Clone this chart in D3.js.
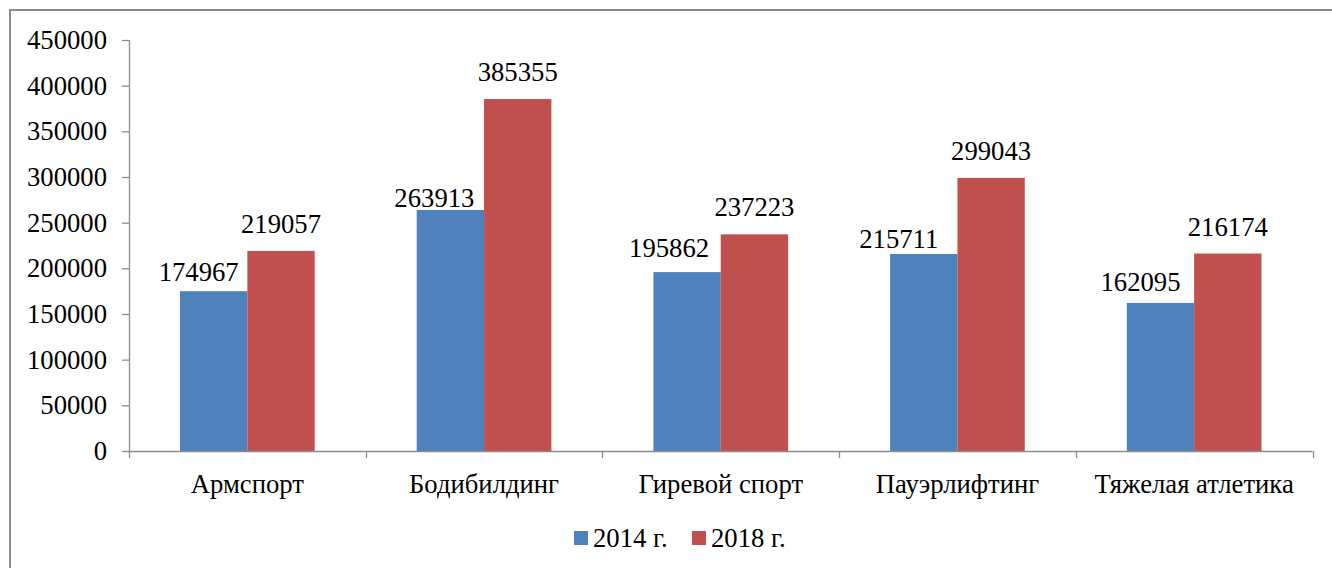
<!DOCTYPE html>
<html>
<head>
<meta charset="utf-8">
<script src="https://cdn.jsdelivr.net/npm/d3@7"></script>
<style>
  body { margin: 0; background: #fff; }
</style>
</head>
<body>
<div id="chart"></div>
<script>
// Chart data
var categories = ["Армспорт", "Бодибилдинг", "Гиревой спорт", "Пауэрлифтинг", "Тяжелая атлетика"];
var seriesNames = ["2014 г.", "2018 г."];
var values2014 = [174967, 263913, 195862, 215711, 162095];
var values2018 = [219057, 385355, 237223, 299043, 216174];
var yTicks = [0, 50000, 100000, 150000, 200000, 250000, 300000, 350000, 400000, 450000];

// the 2014 labels were dragged by hand in the original, keep their nudges (dx, gap above bar)
var nudge2014 = [[-15, 10], [-16, 3], [-18, 15], [-25, 6], [-20, 12]];
var nudge2018 = [[0, 18], [0, 18], [0, 18], [0, 18], [0, 18]];

var colors = ["#4F81BD", "#C0504D"];
var font = "Liberation Serif";
var fontSize = "26.7px";

var svgWidth = 1332;
var svgHeight = 568;

var margin = { top: 40, right: 19.5, bottom: 117, left: 129 };
var width = svgWidth - margin.left - margin.right;
var height = svgHeight - margin.top - margin.bottom;

var svg = d3.select("#chart")
  .append("svg")
  .attr("width", svgWidth)
  .attr("height", svgHeight);

// outer frame
svg.append("rect")
  .attr("x", 10)
  .attr("y", 10)
  .attr("width", svgWidth)
  .attr("height", svgHeight)
  .attr("fill", "none")
  .attr("stroke", "#8c8c8c")
  .attr("stroke-width", 2);

var chartGroup = svg.append("g")
  .attr("transform", `translate(${margin.left}, ${margin.top})`);

var x0 = d3.scaleBand()
  .domain(categories)
  .range([0, width])
  .paddingInner(0.431)
  .paddingOuter(0.2155);

var x1 = d3.scaleBand()
  .domain(seriesNames)
  .range([0, x0.bandwidth()]);

var y = d3.scaleLinear()
  .domain([0, 450000])
  .range([height, 0]);

var data = categories.map(function(c, i) {
  return { cat: c, vals: [values2014[i], values2018[i]], nudges: [nudge2014[i], nudge2018[i]] };
});

// bars
var groups = chartGroup.selectAll(".cat")
  .data(data)
  .enter()
  .append("g")
  .attr("transform", d => `translate(${x0(d.cat)}, 0)`);

groups.selectAll("rect")
  .data(d => d.vals.map((v, j) => ({ name: seriesNames[j], v: v, j: j })))
  .enter()
  .append("rect")
  .attr("x", d => x1(d.name))
  .attr("y", d => y(d.v))
  .attr("width", x1.bandwidth())
  .attr("height", d => height - y(d.v))
  .attr("fill", d => colors[d.j]);

// value labels
groups.selectAll("text.val")
  .data(d => d.vals.map((v, j) => ({ name: seriesNames[j], v: v, j: j, n: d.nudges[j] })))
  .enter()
  .append("text")
  .attr("class", "val")
  .attr("x", d => x1(d.name) + x1.bandwidth() / 2 + d.n[0])
  .attr("y", d => y(d.v) - d.n[1])
  .attr("text-anchor", "middle")
  .style("font-family", font)
  .style("font-size", fontSize)
  .style("fill", "#000")
  .text(d => d.v);

// y axis
var leftAxis = d3.axisLeft(y).tickValues(yTicks).tickSize(7).tickPadding(15).tickFormat(d3.format("d"));
var yAxis = chartGroup.append("g").call(leftAxis).attr("font-family", null).attr("font-size", null);
yAxis.select(".domain").attr("stroke", "#8c8c8c").attr("stroke-width", 1.3).attr("d", `M0.5,0V${height}`);
yAxis.selectAll(".tick line").attr("stroke", "#8c8c8c").attr("stroke-width", 1.3);
yAxis.selectAll("text")
  .style("font-family", font)
  .style("font-size", fontSize)
  .style("fill", "#000");

// x axis
var xAxisG = chartGroup.append("g").attr("transform", `translate(0, ${height})`);
xAxisG.append("line")
  .attr("x1", 0).attr("x2", width)
  .attr("y1", 0.5).attr("y2", 0.5)
  .attr("stroke", "#8c8c8c").attr("stroke-width", 1.3);

xAxisG.selectAll(".cattick")
  .data(d3.range(categories.length + 1))
  .enter()
  .append("line")
  .attr("x1", d => Math.round(d * x0.step()) + 0.5)
  .attr("x2", d => Math.round(d * x0.step()) + 0.5)
  .attr("y1", 0).attr("y2", 7)
  .attr("stroke", "#8c8c8c").attr("stroke-width", 1.3);

xAxisG.selectAll(".catlabel")
  .data(categories)
  .enter()
  .append("text")
  .attr("x", d => x0(d) + x0.bandwidth() / 2)
  .attr("y", 42)
  .attr("text-anchor", "middle")
  .style("font-family", font)
  .style("font-size", fontSize)
  .style("fill", "#000")
  .text(d => d);

// legend
var legend = svg.append("g").attr("transform", "translate(574, 531)");
var legendX = [0, 118];
seriesNames.forEach(function(name, i) {
  var item = legend.append("g").attr("transform", `translate(${legendX[i]}, 0)`);
  item.append("rect")
    .attr("width", 14).attr("height", 14)
    .attr("fill", colors[i]);
  item.append("text")
    .attr("x", 19).attr("y", 16)
    .style("font-family", font)
    .style("font-size", fontSize)
    .style("fill", "#000")
    .text(name);
});
</script>
</body>
</html>
